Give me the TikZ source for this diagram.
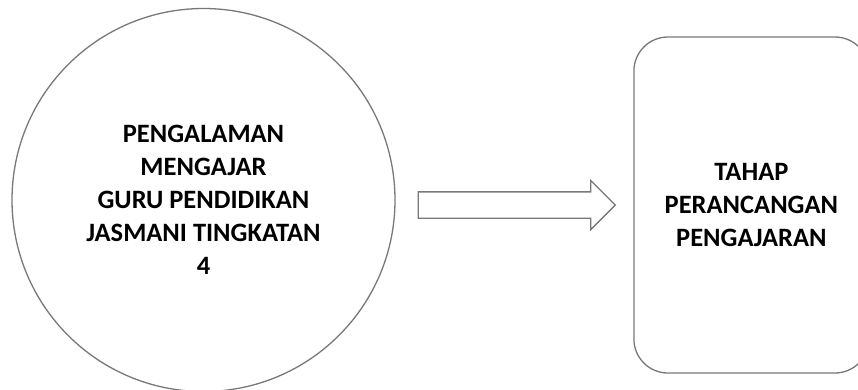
\documentclass[tikz,border=0pt]{standalone}
\usepackage{fontspec}
\setmainfont{Carlito}
\usetikzlibrary{shapes,shapes.arrows,positioning}
\definecolor{edgegray}{RGB}{120,120,120}
\tikzset{
    shapeline/.style={draw=edgegray, line width=1.3pt, fill=white},
    bigtext/.style={font=\fontsize{26.5}{33}\selectfont\bfseries, text=black, align=center}
}

\begin{document}
\begin{tikzpicture}[x=1pt, y=-1pt]
       \useasboundingbox (0,0) rectangle (858,389);
       %Defining nodes
       \node[shapeline, bigtext, circle, minimum size=383pt, inner sep=0pt] (Experience) at (203.5,200) {PENGALAMAN\\MENGAJAR\\GURU PENDIDIKAN\\JASMANI TINGKATAN\\4};
       
       \node[shapeline, single arrow, single arrow head extend=11.5pt, single arrow head indent=0pt, inner xsep=0pt, inner ysep=12.5pt, minimum height=197pt, right=22pt of Experience, yshift=-5pt] (Flow) {}; %block arrow between the two
       
       \node[shapeline, bigtext, rectangle, rounded corners=34pt, minimum width=235pt, minimum height=336pt, right=15pt of Flow, xshift=2pt] (Planning) {TAHAP\\PERANCANGAN\\PENGAJARAN};
\end{tikzpicture}
\end{document}
